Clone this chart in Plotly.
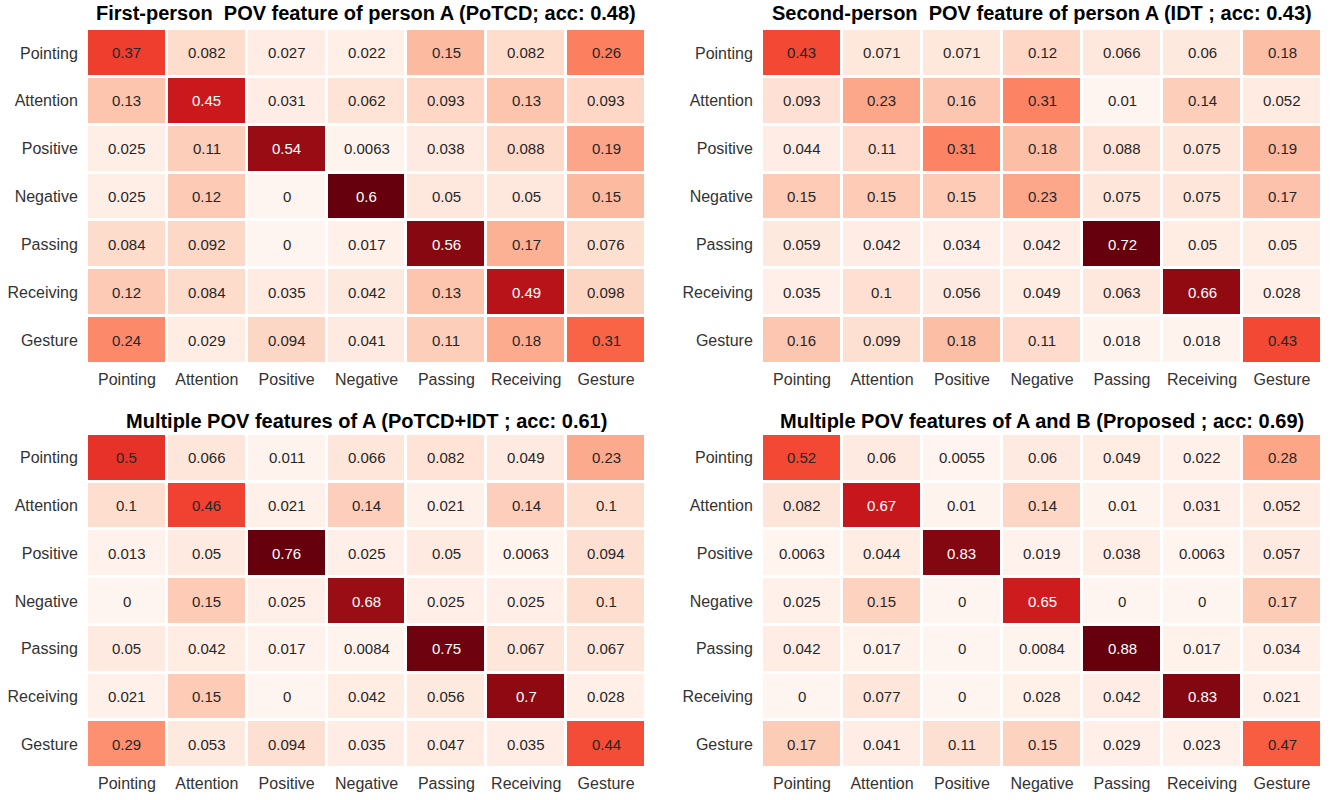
import plotly.graph_objects as go

labels = ["Pointing", "Attention", "Positive", "Negative", "Passing", "Receiving", "Gesture"]

titles = [
    "First-person  POV feature of person A (PoTCD; acc: 0.48)",
    "Second-person  POV feature of person A (IDT ; acc: 0.43)",
    "Multiple POV features of A (PoTCD+IDT ; acc: 0.61)",
    "Multiple POV features of A and B (Proposed ; acc: 0.69)",
]

potcd = [
    [0.37, 0.082, 0.027, 0.022, 0.15, 0.082, 0.26],
    [0.13, 0.45, 0.031, 0.062, 0.093, 0.13, 0.093],
    [0.025, 0.11, 0.54, 0.0063, 0.038, 0.088, 0.19],
    [0.025, 0.12, 0, 0.6, 0.05, 0.05, 0.15],
    [0.084, 0.092, 0, 0.017, 0.56, 0.17, 0.076],
    [0.12, 0.084, 0.035, 0.042, 0.13, 0.49, 0.098],
    [0.24, 0.029, 0.094, 0.041, 0.11, 0.18, 0.31],
]

idt = [
    [0.43, 0.071, 0.071, 0.12, 0.066, 0.06, 0.18],
    [0.093, 0.23, 0.16, 0.31, 0.01, 0.14, 0.052],
    [0.044, 0.11, 0.31, 0.18, 0.088, 0.075, 0.19],
    [0.15, 0.15, 0.15, 0.23, 0.075, 0.075, 0.17],
    [0.059, 0.042, 0.034, 0.042, 0.72, 0.05, 0.05],
    [0.035, 0.1, 0.056, 0.049, 0.063, 0.66, 0.028],
    [0.16, 0.099, 0.18, 0.11, 0.018, 0.018, 0.43],
]

potcd_idt = [
    [0.5, 0.066, 0.011, 0.066, 0.082, 0.049, 0.23],
    [0.1, 0.46, 0.021, 0.14, 0.021, 0.14, 0.1],
    [0.013, 0.05, 0.76, 0.025, 0.05, 0.0063, 0.094],
    [0, 0.15, 0.025, 0.68, 0.025, 0.025, 0.1],
    [0.05, 0.042, 0.017, 0.0084, 0.75, 0.067, 0.067],
    [0.021, 0.15, 0, 0.042, 0.056, 0.7, 0.028],
    [0.29, 0.053, 0.094, 0.035, 0.047, 0.035, 0.44],
]

proposed = [
    [0.52, 0.06, 0.0055, 0.06, 0.049, 0.022, 0.28],
    [0.082, 0.67, 0.01, 0.14, 0.01, 0.031, 0.052],
    [0.0063, 0.044, 0.83, 0.019, 0.038, 0.0063, 0.057],
    [0.025, 0.15, 0, 0.65, 0, 0, 0.17],
    [0.042, 0.017, 0, 0.0084, 0.88, 0.017, 0.034],
    [0, 0.077, 0, 0.028, 0.042, 0.83, 0.021],
    [0.17, 0.041, 0.11, 0.15, 0.029, 0.023, 0.47],
]

matrices = [potcd, idt, potcd_idt, proposed]

W, H = 1330, 800
# panel pixel boxes (x0, x1, y0, y1) in screen pixels from top-left
boxes = [
    (87, 646, 29, 364),
    (762, 1322, 29, 364),
    (87, 646, 434, 768),
    (762, 1322, 434, 768),
]
title_y = [13, 421]

FONT = "Liberation Sans, Arial, Helvetica, sans-serif"
DARK = "#262626"

fig = go.Figure()
layout = dict(
    width=W, height=H, autosize=False,
    margin=dict(l=0, r=0, t=0, b=0),
    paper_bgcolor="white", plot_bgcolor="white",
    font=dict(family=FONT, color=DARK),
    showlegend=False,
)
annotations = []

for i, (m, (x0, x1, y0, y1)) in enumerate(zip(matrices, boxes)):
    flat = [v for row in m for v in row]
    zmin, zmax = min(flat), max(flat)
    sfx = "" if i == 0 else str(i + 1)
    fig.add_trace(go.Heatmap(
        z=m, x=labels, y=labels,
        colorscale="Reds", zmin=zmin, zmax=zmax,
        showscale=False, xgap=3, ygap=3,
        hoverinfo="skip",
        xaxis="x" + sfx, yaxis="y" + sfx,
    ))
    layout["xaxis" + sfx] = dict(
        domain=[x0 / W, x1 / W], anchor="y" + sfx,
        showgrid=False, zeroline=False, showline=False,
        ticks="outside", ticklen=1, tickcolor="rgba(0,0,0,0)",
        tickfont=dict(size=16, color="#333333", family=FONT),
        fixedrange=True,
    )
    layout["yaxis" + sfx] = dict(
        domain=[1 - y1 / H, 1 - y0 / H], anchor="x" + sfx,
        autorange="reversed",
        showgrid=False, zeroline=False, showline=False,
        ticks="outside", ticklen=5, tickcolor="rgba(0,0,0,0)",
        tickfont=dict(size=16, color="#333333", family=FONT),
        fixedrange=True,
    )
    for r, row in enumerate(m):
        for c, v in enumerate(row):
            frac = (v - zmin) / (zmax - zmin)
            annotations.append(dict(
                x=labels[c], y=labels[r], xref="x" + sfx, yref="y" + sfx,
                text=format(v, ".2g"), showarrow=False,
                font=dict(size=15, family=FONT,
                          color="white" if frac > 0.7 else DARK),
            ))
    annotations.append(dict(
        x=(x0 + x1) / 2 / W, y=1 - title_y[i // 2] / H,
        xref="paper", yref="paper", xanchor="center", yanchor="middle",
        text="<b>" + titles[i] + "</b>", showarrow=False,
        font=dict(size=20, family=FONT, color="black"),
    ))

layout["annotations"] = annotations
fig.update_layout(**layout)
fig.write_html(
    "out.html",
    config={"displayModeBar": False},
    post_script="document.body.style.margin='0';document.body.style.overflow='hidden';",
)
